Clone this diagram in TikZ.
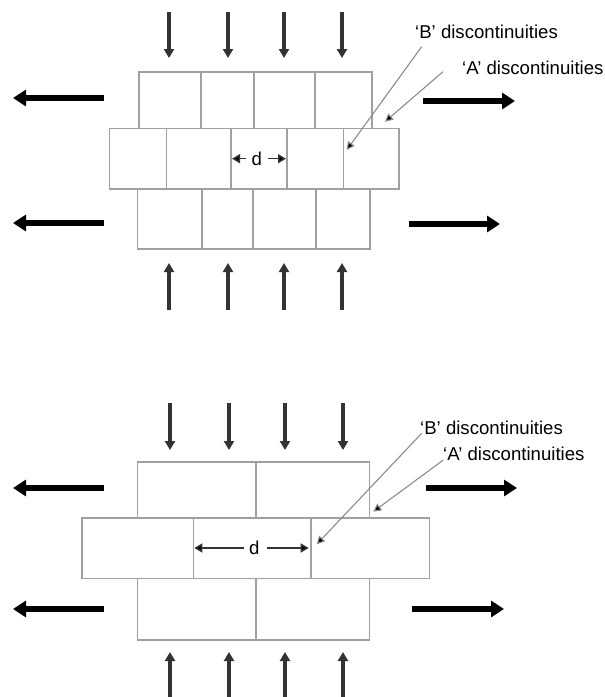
\documentclass[tikz,border=0pt]{standalone}
\usepackage{fontspec}
\setmainfont{Liberation Sans}
\usetikzlibrary{arrows.meta}
\definecolor{blockgray}{HTML}{A0A0A0}
\definecolor{forcegray}{HTML}{333333}
\definecolor{leadgray}{HTML}{8C8C8C}
\begin{document}
\begin{tikzpicture}[x=1pt,y=-1pt,
 blk/.style={draw=blockgray, line width=1.6pt, inner sep=0pt, outer sep=0pt},
 pushar/.style={draw=forcegray, line width=3.4pt, -{Triangle[length=9pt,width=10pt]}},
 pullar/.style={draw=black, line width=5.4pt, -{Triangle[length=13pt,width=16pt]}},
 leader/.style={draw=leadgray, line width=1.1pt, -{Triangle[length=8pt,width=8pt,fill=black]}},
 dimar/.style={draw=forcegray, line width=1.5pt, -{Triangle[length=8pt,width=9pt,fill=black]}},
 lbl/.style={font=\fontsize{18.6}{20}\selectfont, inner sep=0pt, anchor=west},
 dlbl/.style={font=\fontsize{18.6}{20}\selectfont, inner sep=0pt}]
\useasboundingbox (0,0) rectangle (605,697);
\fill[white] (0,0) rectangle (605,697);

% ---------------- Top diagram ----------------
\foreach \a/\b [count=\i] in {139/201,201/254,254/315,315/372}
  \node[blk, minimum width={(\b-\a)*1pt}, minimum height=56.6pt] (ua\i) at ({(\a+\b)/2},100) {};
\foreach \a/\b [count=\i] in {109.5/166.5,166.5/231,231/287,287/343.5,343.5/399}
  \node[blk, minimum width={(\b-\a)*1pt}, minimum height=60.7pt] (ma\i) at ({(\a+\b)/2},158.7) {};
\foreach \a/\b [count=\i] in {137.5/202,202/253,253/316,316/370}
  \node[blk, minimum width={(\b-\a)*1pt}, minimum height=60pt] (la\i) at ({(\a+\b)/2},219) {};

\foreach \x [count=\i] in {169,228,284,342}{
  \coordinate (dnAs\i) at (\x,12); \coordinate (dnAe\i) at (\x,58);
  \draw[pushar] (dnAs\i) -- (dnAe\i);
  \coordinate (upAs\i) at (\x,310); \coordinate (upAe\i) at (\x,263);
  \draw[pushar] (upAs\i) -- (upAe\i);
}
\coordinate (plA1s) at (104,98);  \coordinate (plA1e) at (13,98);
\coordinate (plA2s) at (104,223); \coordinate (plA2e) at (13,223);
\coordinate (prA1s) at (423,101); \coordinate (prA1e) at (515,101);
\coordinate (prA2s) at (409,224); \coordinate (prA2e) at (500,224);
\draw[pullar] (plA1s) -- (plA1e);
\draw[pullar] (plA2s) -- (plA2e);
\draw[pullar] (prA1s) -- (prA1e);
\draw[pullar] (prA2s) -- (prA2e);

\node[dlbl] (dA) at (256.7,158.7) {d};
\draw[dimar, shorten >=1pt] ([xshift=-5pt]dA.west) -- (ma3.west |- dA);
\draw[dimar, shorten >=1pt] ([xshift=6pt]dA.east) -- (ma3.east |- dA);

\node[lbl] (lbA) at (415,32) {‘B’ discontinuities};
\node[lbl] (laA) at (462,68) {‘A’ discontinuities};
\coordinate (lbAs) at (421.7,46.7); \coordinate (lbAe) at (346.7,150);
\coordinate (laAs) at (443,71.7);   \coordinate (laAe) at (385,121.7);
\draw[leader] (lbAs) -- (lbAe);
\draw[leader] (laAs) -- (laAe);

% ---------------- Bottom diagram ----------------
\foreach \a/\b [count=\i] in {137.3/256,256/369.3}
  \node[blk, minimum width={(\b-\a)*1pt}, minimum height=56pt] (ub\i) at ({(\a+\b)/2},489.7) {};
\foreach \a/\b [count=\i] in {81.7/193.3,193.3/310.7,310.7/429.3}
  \node[blk, minimum width={(\b-\a)*1pt}, minimum height=60.6pt] (mb\i) at ({(\a+\b)/2},548) {};
\foreach \a/\b [count=\i] in {137.3/256,256/369.3}
  \node[blk, minimum width={(\b-\a)*1pt}, minimum height=61.7pt] (lb\i) at ({(\a+\b)/2},609.2) {};

\foreach \x [count=\i] in {170,229,285,343}{
  \coordinate (dnBs\i) at (\x,403); \coordinate (dnBe\i) at (\x,450);
  \draw[pushar] (dnBs\i) -- (dnBe\i);
  \coordinate (upBs\i) at (\x,697); \coordinate (upBe\i) at (\x,652);
  \draw[pushar] (upBs\i) -- (upBe\i);
}
\coordinate (plB1s) at (104,488); \coordinate (plB1e) at (13,488);
\coordinate (plB2s) at (104,609); \coordinate (plB2e) at (13,609);
\coordinate (prB1s) at (426,488); \coordinate (prB1e) at (517,488);
\coordinate (prB2s) at (412,609); \coordinate (prB2e) at (504,609);
\draw[pullar] (plB1s) -- (plB1e);
\draw[pullar] (plB2s) -- (plB2e);
\draw[pullar] (prB1s) -- (prB1e);
\draw[pullar] (prB2s) -- (prB2e);

\node[dlbl] (dB) at (254.3,548) {d};
\draw[dimar, shorten >=1pt] ([xshift=-5pt]dB.west) -- (mb2.west |- dB);
\draw[dimar, shorten >=2pt] ([xshift=7pt]dB.east) -- (mb2.east |- dB);

\node[lbl] (lbB) at (420,428.3) {‘B’ discontinuities};
\node[lbl] (laB) at (443,454.3) {‘A’ discontinuities};
\coordinate (lbBs) at (421.7,433.3); \coordinate (lbBe) at (316.7,544.3);
\coordinate (laBs) at (443.3,460);   \coordinate (laBe) at (373.3,511.7);
\draw[leader] (lbBs) -- (lbBe);
\draw[leader] (laBs) -- (laBe);
\end{tikzpicture}
\end{document}
